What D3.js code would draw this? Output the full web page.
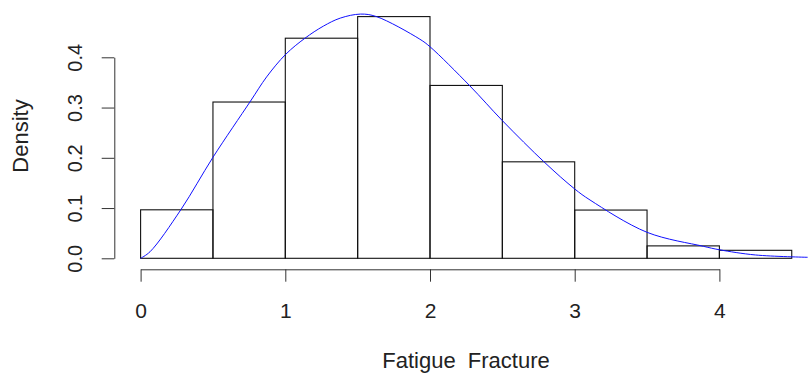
<!DOCTYPE html>
<html>
<head>
<meta charset="utf-8">
<script src="https://cdn.jsdelivr.net/npm/d3@7"></script>
<style>
  body { margin: 0; background: #fff; }
  text { font-family: "Liberation Sans", Arial, sans-serif; fill: #222; }
</style>
</head>
<body>
<svg id="chart" width="808" height="374"></svg>
<script>
// histogram bins (width 0.5) and their densities
const binStarts = [0, 0.5, 1, 1.5, 2, 2.5, 3, 3.5, 4]
const binWidth = 0.5
const densities = [0.0965, 0.311, 0.438, 0.481, 0.344, 0.192, 0.096, 0.0247, 0.0159]

// fitted density curve
const curveX = [0, 0.065, 0.28, 0.5, 0.76, 0.871, 1.003, 1.136, 1.263, 1.38, 1.52, 1.63, 1.93, 2.0, 2.276, 2.5, 2.795, 3.0, 3.106, 3.5, 3.889, 4.0, 4.25, 4.61]
const curveY = [0, 0.013, 0.0975, 0.201, 0.313, 0.361, 0.406, 0.438, 0.462, 0.478, 0.486, 0.481, 0.436, 0.421, 0.343, 0.274, 0.19, 0.138, 0.116, 0.0517, 0.0239, 0.017, 0.0066, 0.002]

const xTicks = [0, 1, 2, 3, 4]
const yTicks = [0, 0.1, 0.2, 0.3, 0.4]

const svg = d3.select('#chart')

const x = d3.scaleLinear().domain([0, 4]).range([140.6, 719.4])
const y = d3.scaleLinear().domain([0, 0.4]).range([258.3, 57.3])

// bars
svg.append('g')
  .selectAll('rect')
  .data(binStarts)
  .join('rect')
  .attr('x', d => x(d))
  .attr('width', d => x(d + binWidth) - x(d))
  .attr('y', (d, i) => y(densities[i]))
  .attr('height', (d, i) => y(0) - y(densities[i]))
  .attr('fill', 'none')
  .attr('stroke', '#111')
  .attr('stroke-width', 1.1)

// density curve
const pts = curveX.map((d, i) => [d, curveY[i]])
svg.append('path')
  .datum(pts)
  .attr('d', d3.line().x(d => x(d[0])).y(d => y(d[1])).curve(d3.curveCatmullRom))
  .attr('fill', 'none')
  .attr('stroke', '#1010ff')
  .attr('stroke-width', 1)

// x axis
const xAxis = svg.append('g')
  .attr('transform', 'translate(0,269.3)')
  .call(d3.axisBottom(x).tickValues(xTicks).tickSize(12.4).tickSizeOuter(0).tickFormat(d3.format('d')))
xAxis.select('.domain').attr('stroke', '#333')
xAxis.selectAll('.tick line').attr('stroke', '#333')
xAxis.selectAll('.tick text')
  .attr('y', 48.5).attr('dy', 0)
  .style('font-size', '21px')
  .style('fill', '#222')

// y axis
const yAxis = svg.append('g')
  .attr('transform', 'translate(114.3,0)')
  .call(d3.axisLeft(y).tickValues(yTicks).tickSize(12.6).tickSizeOuter(0).tickFormat(d3.format('.1f')))
yAxis.select('.domain').attr('stroke', '#333')
yAxis.selectAll('.tick line').attr('stroke', '#333')
yAxis.selectAll('.tick text')
  .attr('transform', 'rotate(-90)')
  .attr('x', 0).attr('y', -32.3).attr('dy', 0)
  .attr('text-anchor', 'middle')
  .style('font-size', '20px')
  .style('fill', '#222')

// axis titles
svg.append('text')
  .attr('x', 466).attr('y', 368)
  .attr('text-anchor', 'middle')
  .attr('xml:space', 'preserve')
  .style('white-space', 'pre')
  .style('font-size', '22px')
  .text('Fatigue  Fracture')

svg.append('text')
  .attr('transform', 'translate(28.3,136) rotate(-90)')
  .attr('text-anchor', 'middle')
  .style('font-size', '22px')
  .text('Density')
</script>
</body>
</html>
